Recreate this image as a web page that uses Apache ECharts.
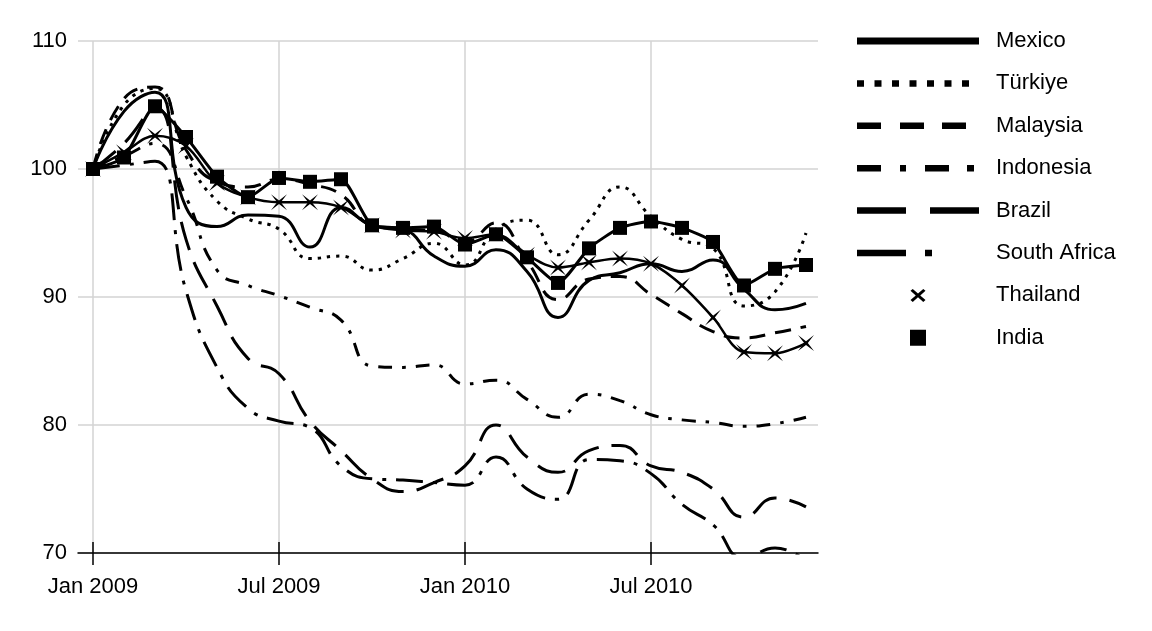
<!DOCTYPE html>
<html>
<head>
<meta charset="utf-8">
<script src="https://cdn.jsdelivr.net/npm/echarts@6/dist/echarts.min.js"></script>
<style>
html,body{margin:0;padding:0;background:#fff;}
#chart{width:1152px;height:631px;}
</style>
</head>
<body>
<div id="chart"></div>
<script>
// ---- data ----
const months = ['Jan 2009','Feb 2009','Mar 2009','Apr 2009','May 2009','Jun 2009','Jul 2009','Aug 2009','Sep 2009','Oct 2009','Nov 2009','Dec 2009',
                'Jan 2010','Feb 2010','Mar 2010','Apr 2010','May 2010','Jun 2010','Jul 2010','Aug 2010','Sep 2010','Oct 2010','Nov 2010','Dec 2010'];
const yTicks = [70, 80, 90, 100, 110];
const seriesNames = ['Mexico','Türkiye','Malaysia','Indonesia','Brazil','South Africa','Thailand','India'];

const mexico      = [100, 104.5, 106.0, 97.0, 95.5, 96.4, 96.3, 93.9, 97.0, 95.6, 95.3, 93.2, 92.4, 93.7, 92.0, 88.4, 91.3, 91.9, 92.6, 92.0, 92.9, 90.6, 89.0, 89.5];
const turkiye     = [100, 105.0, 106.3, 101.0, 97.5, 96.1, 95.3, 93.0, 93.2, 92.1, 93.0, 94.2, 92.5, 95.3, 96.0, 93.3, 96.0, 98.6, 96.3, 94.5, 93.8, 89.3, 90.4, 95.0];
const malaysia    = [100, 105.5, 106.4, 101.5, 99.0, 98.6, 99.2, 98.8, 98.0, 95.6, 95.3, 95.2, 94.3, 95.8, 92.8, 89.8, 91.4, 91.6, 90.2, 88.7, 87.3, 86.8, 87.2, 87.7];
const indonesia   = [100, 101.0, 102.0, 97.8, 92.1, 90.9, 90.1, 89.2, 88.2, 84.6, 84.5, 84.7, 83.2, 83.5, 82.0, 80.6, 82.4, 81.9, 80.8, 80.4, 80.2, 79.9, 80.1, 80.6];
const brazil      = [100, 102.0, 104.8, 94.5, 89.3, 85.2, 84.0, 80.3, 78.0, 75.8, 74.8, 75.5, 76.8, 80.0, 77.5, 76.3, 78.0, 78.4, 76.8, 76.3, 75.0, 72.8, 74.3, 73.6];
const southAfrica = [100, 100.3, 100.6, 90.5, 84.5, 81.3, 80.3, 79.8, 76.8, 75.8, 75.7, 75.5, 75.3, 77.5, 75.0, 74.2, 77.3, 77.2, 76.2, 73.8, 72.2, 69.6, 70.4, 69.4];
const thailand    = [100, 101.3, 102.6, 101.8, 98.9, 97.8, 97.4, 97.4, 97.0, 95.6, 95.2, 95.1, 94.6, 94.9, 93.3, 92.3, 92.7, 93.0, 92.6, 90.9, 88.4, 85.7, 85.6, 86.4];
const india       = [100, 100.9, 104.9, 102.5, 99.4, 97.8, 99.3, 99.0, 99.2, 95.6, 95.4, 95.5, 94.1, 94.9, 93.1, 91.1, 93.8, 95.4, 95.9, 95.4, 94.3, 90.9, 92.2, 92.5];

// ---- styling helpers ----
const FONT = 'Liberation Sans, Arial, Helvetica, sans-serif';
const IW = 122, IH = 22, CY = 11;
function bboxCorners() {
  return 'M0,0L0.01,0L0,0.01Z M' + IW + ',' + IH + 'L' + (IW - 0.01) + ',' + IH + 'L' + IW + ',' + (IH - 0.01) + 'Z';
}
function segIcon(segs, th) {
  let d = bboxCorners();
  segs.forEach(function (s) {
    const y0 = CY - th / 2, y1 = CY + th / 2;
    d += ' M' + s[0] + ',' + y0 + 'L' + s[1] + ',' + y0 + 'L' + s[1] + ',' + y1 + 'L' + s[0] + ',' + y1 + 'Z';
  });
  return 'path://' + d;
}
function xIcon() {
  const t = 0.3, a = 7.5, b = 6.5, cx = 61;
  const pts = [[-1,-1+t],[-1+t,-1],[0,-t],[1-t,-1],[1,-1+t],[t,0],[1,1-t],[1-t,1],[0,t],[-1+t,1],[-1,1-t],[-t,0]];
  let d = bboxCorners() + ' M';
  d += pts.map(function (p) { return (cx + p[0] * a).toFixed(2) + ',' + (CY + p[1] * b).toFixed(2); }).join('L') + 'Z';
  return 'path://' + d;
}
function squareIcon() {
  return 'path://' + bboxCorners() + ' M53,3L69,3L69,19L53,19Z';
}

const legendIcons = [
  segIcon([[0,122]], 7),
  segIcon([[0,7],[17.5,24.5],[35,42],[52.5,59.5],[70,77],[87.5,94.5],[105,112]], 6.5),
  segIcon([[0,24],[43,67],[85,109]], 6.5),
  segIcon([[0,24],[43,49],[68,92],[110,117]], 6.5),
  segIcon([[0,49],[73,122]], 6.5),
  segIcon([[0,49],[68,75]], 6.5),
  xIcon(),
  squareIcon()
];

const lineTypes = ['solid', [3.3, 6], [16, 10], [14, 10, 3.5, 10], [29, 13], [27, 10, 4, 10], 'solid', 'solid'];
const lineWidths = [3, 3, 3, 3, 3, 3, 2.5, 3];
const smooths = [0.5, 0.5, 0.5, 0.5, 0.5, 0.5, 0.35, 0.2];
const dataList = [mexico, turkiye, malaysia, indonesia, brazil, southAfrica, thailand, india];
const starX = 'path://M0,0L7,5.4L14,0L8.6,7L14,14L7,8.6L0,14L5.4,7Z';
const symbols = ['none','none','none','none','none','none', starX, 'rect'];
const symbolSizes = [0,0,0,0,0,0,16,14];

const series = seriesNames.map(function (name, i) {
  return {
    name: name,
    type: 'line',
    xAxisIndex: 1,
    yAxisIndex: 1,
    data: dataList[i],
    smooth: smooths[i],
    symbol: symbols[i],
    symbolSize: symbolSizes[i],
    showSymbol: symbols[i] !== 'none',
    lineStyle: { color: '#000', width: lineWidths[i], type: lineTypes[i], cap: 'butt' },
    itemStyle: { color: '#000', borderWidth: 0 },
    emphasis: { disabled: true },
    z: 2 + i
  };
});

const chart = echarts.init(document.getElementById('chart'), null, { renderer: 'canvas' });
chart.setOption({
  animation: false,
  backgroundColor: '#fff',
  textStyle: { fontFamily: FONT },
  grid: [
    { left: 78, right: 334, top: 41, bottom: 78 },
    { left: 93, right: 346, top: 41, bottom: 78 }
  ],
  xAxis: [
    { gridIndex: 0, type: 'value', min: 0, max: 1, z: 10,
      axisLine: { show: true, onZero: false, lineStyle: { color: '#000', width: 1.5 } },
      axisTick: { show: false }, axisLabel: { show: false }, splitLine: { show: false } },
    { gridIndex: 1, type: 'category', data: months, boundaryGap: false, position: 'bottom',
      axisLine: { show: false, onZero: false },
      axisTick: { show: true, interval: 5, length: 12, lineStyle: { color: '#000', width: 1.5 } },
      axisLabel: { interval: 5, fontSize: 22, color: '#000', margin: 23, fontFamily: FONT },
      splitLine: { show: true, interval: 5, lineStyle: { color: '#d3d3d3', width: 1.5 } } },
    { gridIndex: 1, type: 'category', data: months, boundaryGap: false, position: 'bottom', z: 10,
      axisLine: { show: false, onZero: false },
      axisTick: { show: true, inside: true, interval: 5, length: 11, lineStyle: { color: '#000', width: 1.5 } },
      axisLabel: { show: false }, splitLine: { show: false } }
  ],
  yAxis: [
    { gridIndex: 0, type: 'value', min: yTicks[0], max: yTicks[yTicks.length - 1], interval: 10,
      axisLine: { show: false }, axisTick: { show: false },
      axisLabel: { fontSize: 22, color: '#000', margin: 11, fontFamily: FONT },
      splitLine: { show: true, lineStyle: { color: '#d3d3d3', width: 1.5 } } },
    { gridIndex: 1, type: 'value', min: yTicks[0], max: yTicks[yTicks.length - 1], interval: 10, show: false }
  ],
  legend: {
    orient: 'vertical',
    left: 857,
    top: 30,
    padding: 0,
    itemWidth: IW,
    itemHeight: IH,
    itemGap: 20.4,
    selectedMode: false,
    itemStyle: { color: '#000', borderWidth: 0 },
    textStyle: { fontSize: 22, color: '#000', fontFamily: FONT, lineHeight: 22, padding: [0, 0, 0, 12] },
    data: seriesNames.map(function (n, i) {
      return { name: n, icon: legendIcons[i], itemStyle: { color: '#000', borderWidth: 0 } };
    })
  },
  series: series
});
</script>
</body>
</html>
